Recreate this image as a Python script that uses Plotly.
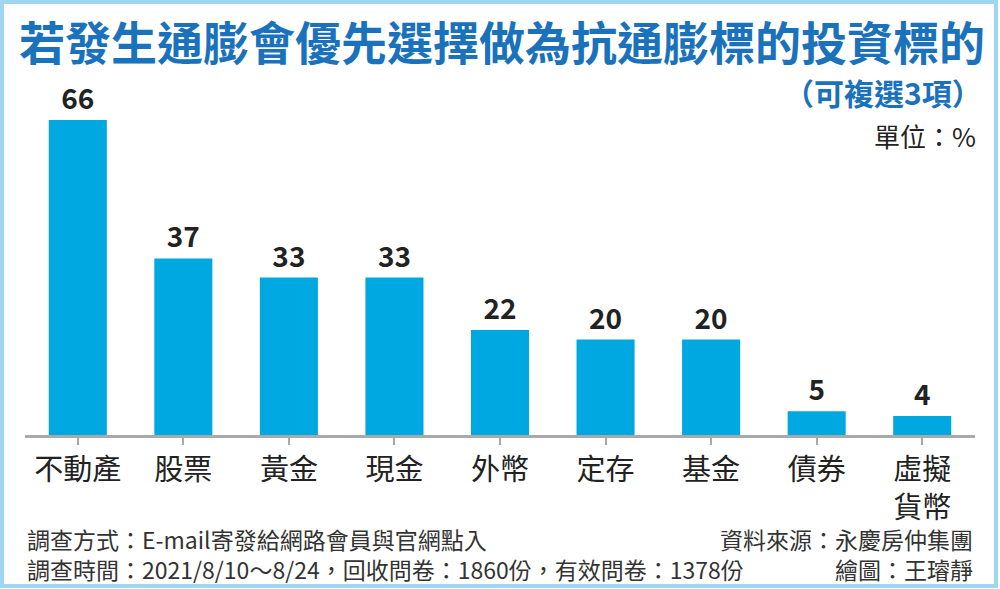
import plotly.graph_objects as go

# data
categories = ["不動產", "股票", "黃金", "現金", "外幣", "定存", "基金", "債券", "虛擬<br>貨幣"]
values = [66, 37, 33, 33, 22, 20, 20, 5, 4]

W, H = 1000, 589
FONT = "Noto Sans CJK TC"


def py(px):
    # pixel row -> paper fraction (margins are zero)
    return 1 - px / H


fig = go.Figure()
fig.add_trace(
    go.Bar(
        x=categories,
        y=values,
        marker=dict(color="#00a8e1", line=dict(width=0)),
        text=[str(v) for v in values],
        textposition="outside",
        textfont=dict(family=FONT, size=28, color="#222222", weight="bold"),
        cliponaxis=False,
        width=0.55,
    )
)

fig.update_layout(
    width=W,
    height=H,
    margin=dict(l=0, r=0, t=0, b=0),
    paper_bgcolor="white",
    plot_bgcolor="white",
    showlegend=False,
    font=dict(family=FONT, color="#222222"),
    xaxis=dict(
        domain=[25 / W, 975 / W],
        showline=True,
        linecolor="#a9a9a9",
        linewidth=3,
        ticks="outside",
        ticklen=7,
        tickwidth=2,
        tickcolor="#a9a9a9",
        tickfont=dict(family=FONT, size=29, color="#222222"),
        showgrid=False,
        automargin=False,
    ),
    yaxis=dict(
        domain=[py(435), py(101)],
        range=[0, 70],
        visible=False,
        automargin=False,
    ),
)

# frame
fig.add_shape(
    type="rect",
    xref="paper",
    yref="paper",
    x0=2 / W,
    x1=996 / W,
    y0=py(586),
    y1=py(2),
    line=dict(color="#9fd6f2", width=4),
    fillcolor="rgba(0,0,0,0)",
    layer="below",
)

# titles
fig.add_annotation(
    text="<b>若發生通膨會優先選擇做為抗通膨標的投資標的</b>",
    x=17 / W, y=py(40), xref="paper", yref="paper",
    xanchor="left", yanchor="middle", showarrow=False,
    font=dict(family=FONT, size=46, color="#1a72bc"),
)
fig.add_annotation(
    text="<b>（可複選3項）</b>",
    x=984 / W, y=py(92), xref="paper", yref="paper",
    xanchor="right", yanchor="middle", showarrow=False,
    font=dict(family=FONT, size=30, color="#1a72bc"),
)
fig.add_annotation(
    text="單位：%",
    x=978 / W, y=py(136), xref="paper", yref="paper",
    xanchor="right", yanchor="middle", showarrow=False,
    font=dict(family=FONT, size=26, color="#222222"),
)

# footer, two lines per side
foot = dict(family=FONT, size=23, color="#333333")
fig.add_annotation(
    text="調查方式：E-mail寄發給網路會員與官網點入<br>"
         "調查時間：2021/8/10～8/24，回收問卷：1860份，有效問卷：1378份",
    x=25 / W, y=py(554), xref="paper", yref="paper",
    xanchor="left", yanchor="middle", align="left", showarrow=False, font=foot,
)
fig.add_annotation(
    text="資料來源：永慶房仲集團<br>繪圖：王璿靜",
    x=975 / W, y=py(554), xref="paper", yref="paper",
    xanchor="right", yanchor="middle", align="right", showarrow=False, font=foot,
)

# the page body has a default 8px margin; drop it so the figure sits at the corner
fig.write_html(
    "out.html",
    config={"displayModeBar": False},
    post_script="document.body.style.margin='0';",
)
